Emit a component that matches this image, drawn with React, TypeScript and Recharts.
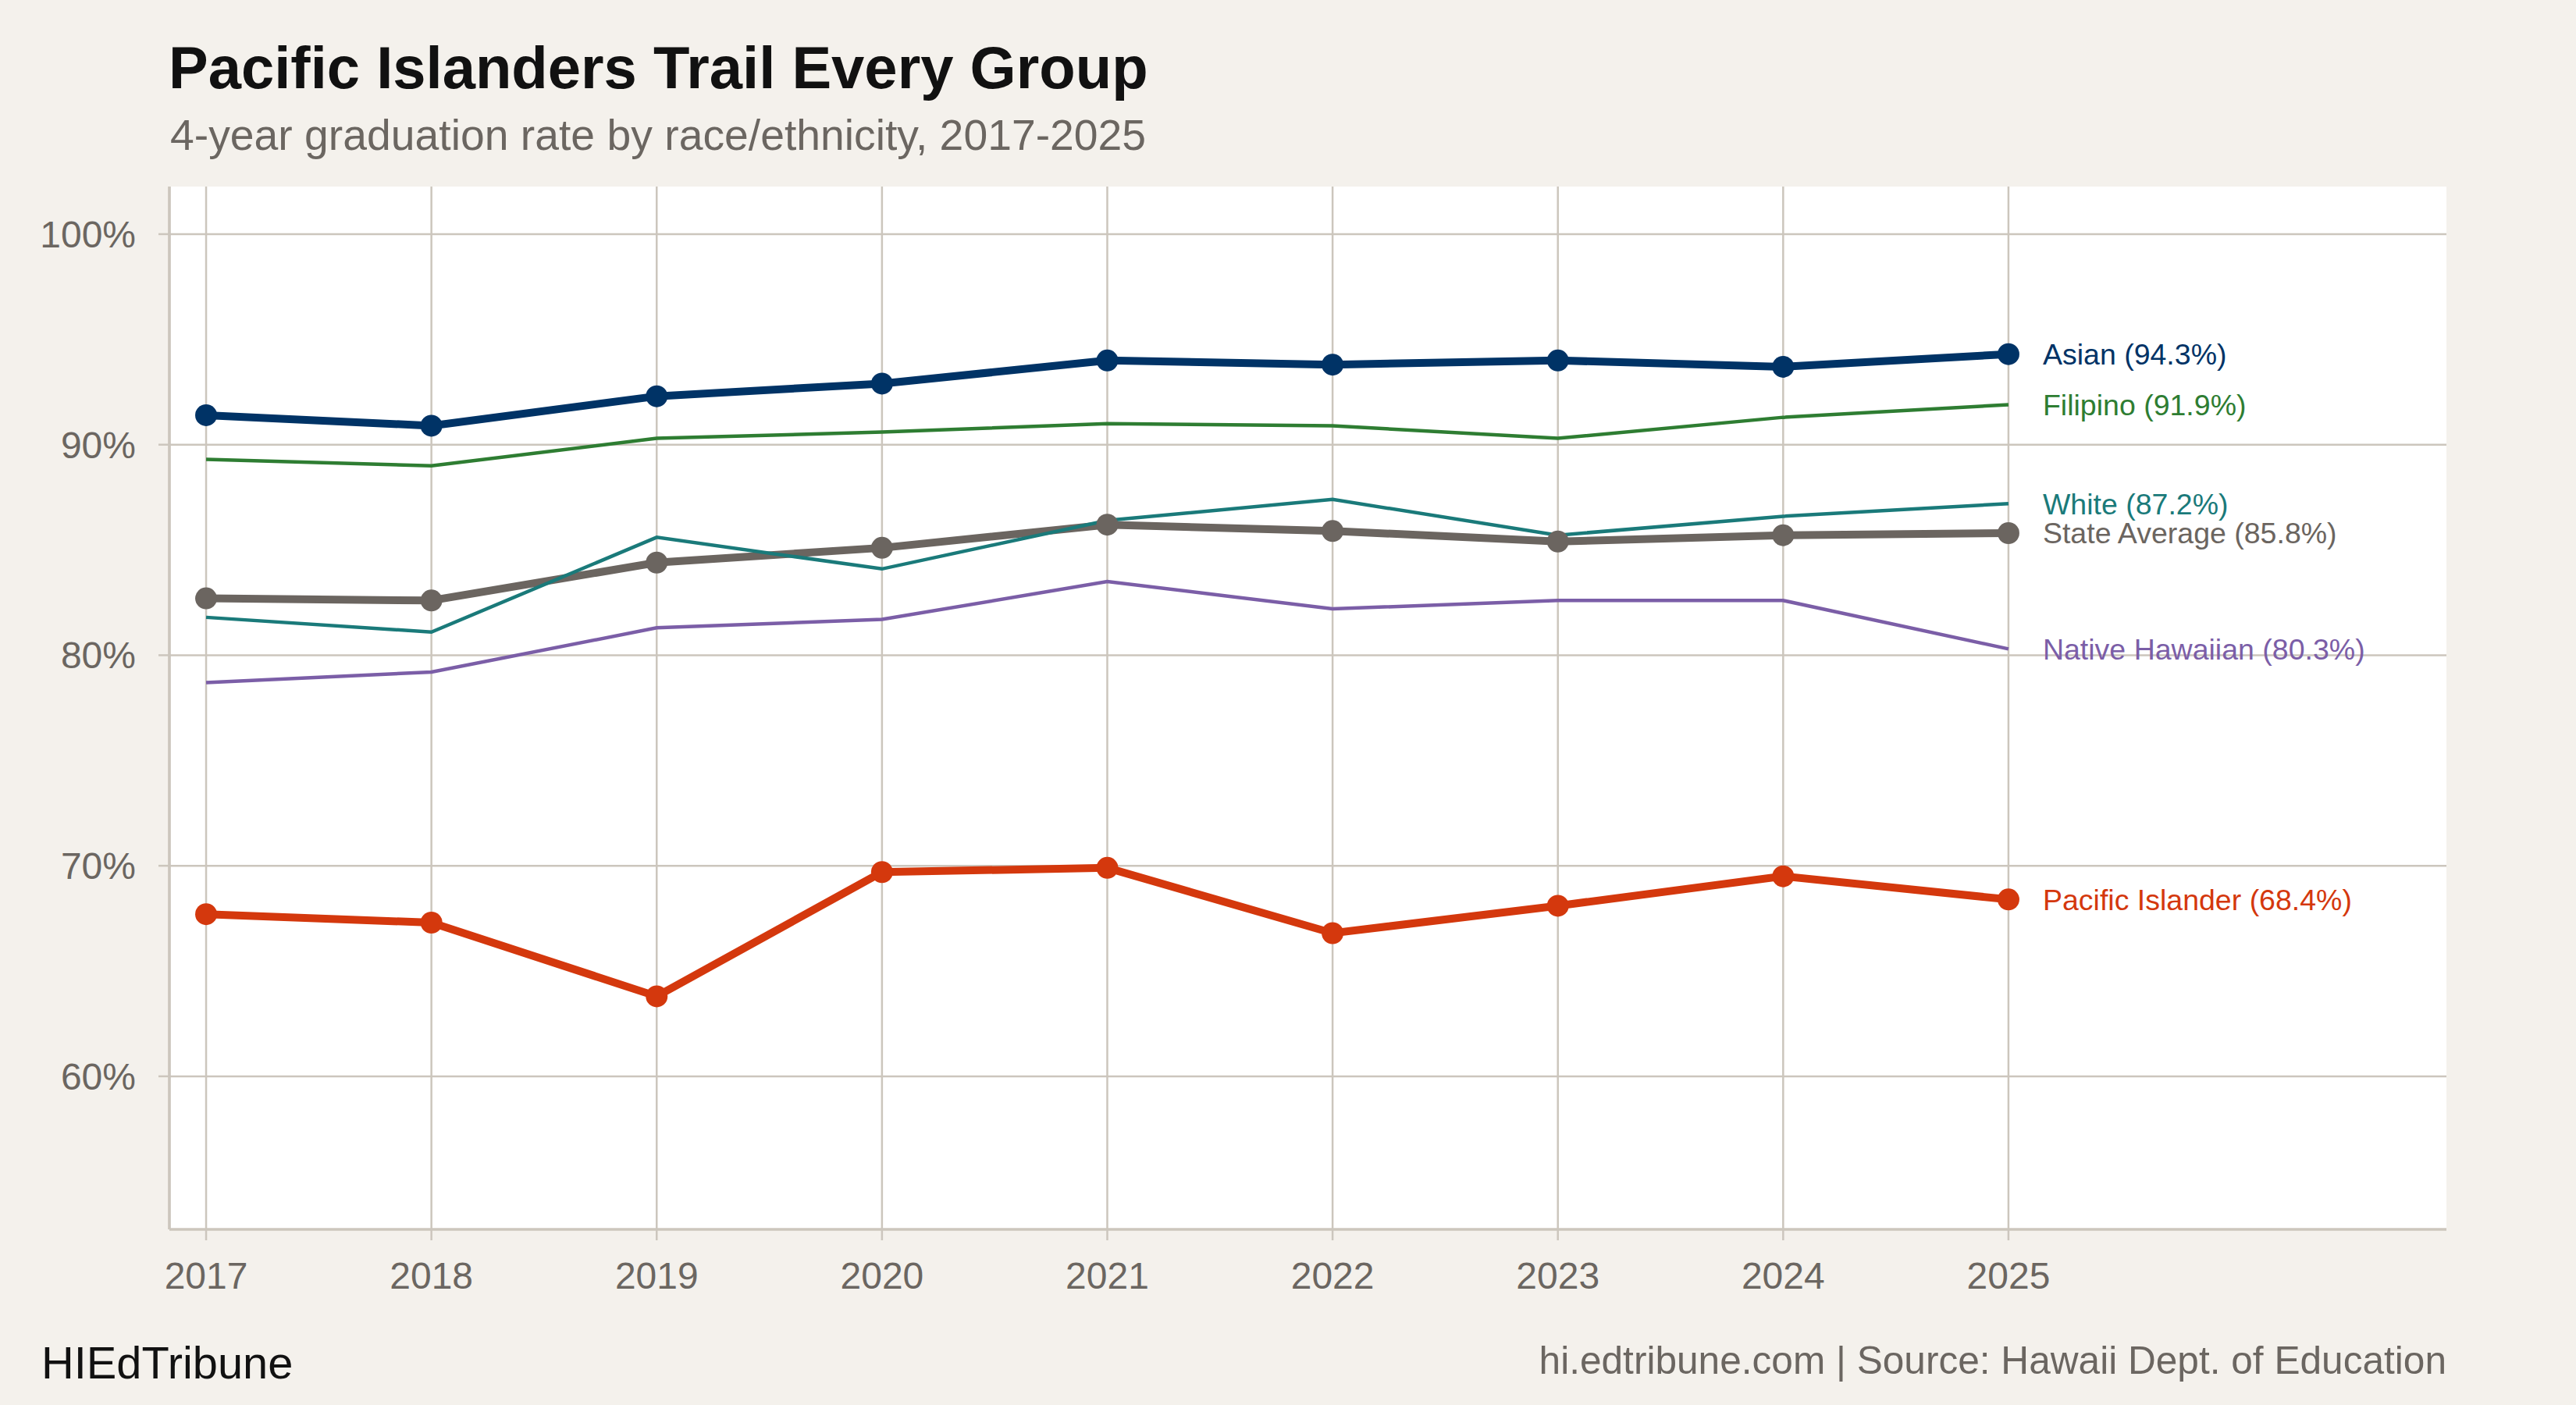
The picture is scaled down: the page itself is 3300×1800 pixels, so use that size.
import { LineChart, Line, XAxis, YAxis, CartesianGrid } from "recharts";

const years = [2017, 2018, 2019, 2020, 2021, 2022, 2023, 2024, 2025];
const asian = [91.4, 90.9, 92.3, 92.9, 94.0, 93.8, 94.0, 93.7, 94.3];
const filipino = [89.3, 89.0, 90.3, 90.6, 91.0, 90.9, 90.3, 91.3, 91.9];
const white = [81.8, 81.1, 85.6, 84.1, 86.4, 87.4, 85.7, 86.6, 87.2];
const stateAverage = [82.7, 82.6, 84.4, 85.1, 86.2, 85.9, 85.4, 85.7, 85.8];
const nativeHawaiian = [78.7, 79.2, 81.3, 81.7, 83.5, 82.2, 82.6, 82.6, 80.3];
const pacificIslander = [67.7, 67.3, 63.8, 69.7, 69.9, 66.8, 68.1, 69.5, 68.4];
const yTicks = [60, 70, 80, 90, 100];

const data = years.map((year, i) => ({
  year,
  asian: asian[i],
  filipino: filipino[i],
  white: white[i],
  stateAverage: stateAverage[i],
  nativeHawaiian: nativeHawaiian[i],
  pacificIslander: pacificIslander[i],
}));

const FONT = '"Liberation Sans", Arial, Helvetica, sans-serif';
const BG = "#f4f1ec";
const GRID = "#ccc6bd";
const TICK_TEXT = "#6b6661";

const series = [
  { key: "nativeHawaiian", name: "Native Hawaiian", color: "#7b5ea7", thick: false },
  { key: "stateAverage", name: "State Average", color: "#6b6560", thick: true },
  { key: "white", name: "White", color: "#1a7a7a", thick: false },
  { key: "filipino", name: "Filipino", color: "#2e7d32", thick: false },
  { key: "asian", name: "Asian", color: "#003366", thick: true },
  { key: "pacificIslander", name: "Pacific Islander", color: "#d4380d", thick: true },
];

function endLabel(name: string, color: string) {
  return (props: any) => {
    const { x, y, index, value } = props;
    if (index !== years.length - 1) return null;
    return (
      <text
        x={x + 44}
        y={y}
        dy="0.355em"
        fill={color}
        fontSize={37.5}
        fontFamily={FONT}
      >
        {`${name} (${Number(value).toFixed(1)}%)`}
      </text>
    );
  };
}

export default function App() {
  return (
    <div
      style={{
        position: "absolute",
        left: 0,
        top: 0,
        width: 3300,
        height: 1800,
        background: BG,
        fontFamily: FONT,
        overflow: "hidden",
      }}
    >
      <div
        style={{
          position: "absolute",
          left: 216,
          top: 49,
          fontSize: 76,
          lineHeight: 1,
          fontWeight: 700,
          color: "#111",
          whiteSpace: "nowrap",
        }}
      >
        Pacific Islanders Trail Every Group
      </div>
      <div
        style={{
          position: "absolute",
          left: 218,
          top: 146,
          fontSize: 55.3,
          lineHeight: 1,
          color: TICK_TEXT,
          whiteSpace: "nowrap",
        }}
      >
        4-year graduation rate by race/ethnicity, 2017-2025
      </div>

      <div style={{ position: "absolute", left: 0, top: 0 }}>
        <LineChart
          width={3300}
          height={1800}
          data={data}
          margin={{ top: 239, right: 166, bottom: 165, left: 117 }}
        >
          <CartesianGrid
            fill="#ffffff"
            stroke={GRID}
            strokeWidth={2.5}
            horizontalValues={yTicks}
            verticalValues={years}
          />
          <XAxis
            dataKey="year"
            type="number"
            domain={[2016.837, 2026.944]}
            ticks={years}
            height={60}
            tickSize={14}
            tickMargin={28}
            axisLine={{ stroke: GRID, strokeWidth: 3.7 }}
            tickLine={{ stroke: GRID, strokeWidth: 2.5 }}
            tick={{ fontSize: 48, fill: TICK_TEXT, fontFamily: FONT }}
            interval={0}
          />
          <YAxis
            type="number"
            domain={[52.73, 102.26]}
            ticks={yTicks}
            width={100}
            tickSize={14}
            tickMargin={29}
            tickFormatter={(v) => `${v}%`}
            axisLine={{ stroke: GRID, strokeWidth: 3.7 }}
            tickLine={{ stroke: GRID, strokeWidth: 2.5 }}
            tick={{ fontSize: 48, fill: TICK_TEXT, fontFamily: FONT }}
            interval={0}
          />
          {series.map((s) => (
            <Line
              key={s.key}
              type="linear"
              dataKey={s.key}
              stroke={s.color}
              strokeWidth={s.thick ? 10 : 4.5}
              dot={s.thick ? { r: 14, fill: s.color, stroke: "none" } : false}
              activeDot={false}
              label={endLabel(s.name, s.color)}
              isAnimationActive={false}
            />
          ))}
        </LineChart>
      </div>

      <div
        style={{
          position: "absolute",
          left: 53,
          top: 1718,
          fontSize: 57.8,
          lineHeight: 1,
          color: "#111",
          whiteSpace: "nowrap",
        }}
      >
        HIEdTribune
      </div>
      <div
        style={{
          position: "absolute",
          right: 166,
          top: 1719,
          fontSize: 49.6,
          lineHeight: 1,
          color: TICK_TEXT,
          whiteSpace: "nowrap",
        }}
      >
        hi.edtribune.com | Source: Hawaii Dept. of Education
      </div>
    </div>
  );
}
